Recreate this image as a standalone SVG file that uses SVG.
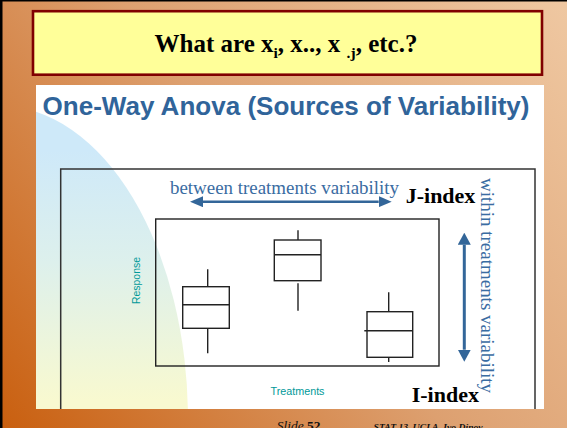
<svg xmlns="http://www.w3.org/2000/svg" width="567" height="428" viewBox="0 0 567 428">
<style>
.serifb{font-family:"Liberation Serif","Times New Roman",serif;font-weight:bold;fill:#000}
.bluet{font-family:"Liberation Serif","Times New Roman",serif;font-size:18px;fill:#3A6CA2}
.teal{font-family:"Liberation Sans",Arial,sans-serif;font-size:10px;fill:#009999}
.box{fill:none;stroke:#222;stroke-width:1.4}
.frame{fill:none;stroke:#333;stroke-width:1.5}
.arr{stroke:#336699;fill:none}
</style>
<defs>
<linearGradient id="bg" gradientUnits="userSpaceOnUse" x1="567" y1="0" x2="0" y2="428">
<stop offset="0" stop-color="#EFC8A2"/>
<stop offset="0.5" stop-color="#DDA070"/>
<stop offset="1" stop-color="#C95F0F"/>
</linearGradient>
<linearGradient id="sweep" gradientUnits="userSpaceOnUse" x1="0" y1="150" x2="0" y2="400">
<stop offset="0" stop-color="#CEE9F9"/>
<stop offset="0.45" stop-color="#DDF0EC"/>
<stop offset="1" stop-color="#F8F9D0"/>
</linearGradient>
<clipPath id="panelclip"><rect x="36" y="85" width="508" height="324"/></clipPath>
<marker id="ahH" markerUnits="userSpaceOnUse" viewBox="0 0 13 11" refX="0" refY="5.5" markerWidth="13" markerHeight="11" orient="auto-start-reverse">
<path d="M0,0 L13,5.5 L0,11 z" fill="#336699"/>
</marker>
<marker id="ahV" markerUnits="userSpaceOnUse" viewBox="0 0 12 13" refX="0" refY="6.5" markerWidth="12" markerHeight="13" orient="auto-start-reverse">
<path d="M0,0 L12,6.5 L0,13 z" fill="#336699"/>
</marker>
</defs>

<g id="background">
<rect x="0" y="0" width="567" height="428" fill="url(#bg)"/>
<rect x="0" y="0" width="2.5" height="428" fill="#000"/>
<rect x="0" y="0" width="567" height="1.5" fill="#000"/>
</g>

<g id="title">
<rect x="33" y="11.2" width="509" height="63.5" fill="#FFFF99" stroke="#800000" stroke-width="2.6"/>
<text class="serifb" x="286" y="52" font-size="25" text-anchor="middle">What are x<tspan font-size="15.5" dy="6">i</tspan><tspan dy="-6">, x.., x </tspan><tspan font-size="15.5" dy="6">.j</tspan><tspan dy="-6">, etc.?</tspan></text>
</g>

<g id="panel">
<rect x="36" y="85" width="508" height="324" fill="#FFFFFF"/>
<ellipse cx="0" cy="420" rx="188" ry="314" fill="url(#sweep)" clip-path="url(#panelclip)"/>
<text x="42.5" y="114.5" font-family="Liberation Sans, Arial, sans-serif" font-size="26.5" font-weight="bold" fill="#30649A" textLength="487" lengthAdjust="spacingAndGlyphs">One-Way Anova (Sources of Variability)</text>
</g>

<g id="outer-frame">
<path class="frame" d="M60.7,409 V169 H535 V409"/>
</g>

<g id="plot-area">
<rect class="box" x="155.7" y="219" width="283.3" height="147"/>
</g>

<g id="boxplot-1">
<rect class="box" x="182.7" y="286.7" width="46.6" height="41.6"/>
<line class="box" x1="182.7" y1="304.7" x2="229.3" y2="304.7"/>
<line class="box" x1="207.7" y1="269.3" x2="207.7" y2="286.7"/>
<line class="box" x1="207.7" y1="328.3" x2="207.7" y2="353.3"/>
</g>

<g id="boxplot-2">
<rect class="box" x="274.3" y="240" width="46.7" height="40.7"/>
<line class="box" x1="274.3" y1="254.7" x2="321" y2="254.7"/>
<line class="box" x1="298" y1="230.3" x2="298" y2="240"/>
<line class="box" x1="298" y1="283.3" x2="298" y2="310.7"/>
</g>

<g id="boxplot-3">
<rect class="box" x="367" y="311.7" width="45.7" height="45.6"/>
<line class="box" x1="364.3" y1="330.7" x2="412.7" y2="330.7"/>
<line class="box" x1="388.7" y1="292.3" x2="388.7" y2="311.7"/>
<line class="box" x1="388.7" y1="357.3" x2="388.7" y2="362"/>
</g>

<g id="labels">
<text class="bluet" x="170" y="194.3" textLength="229" lengthAdjust="spacingAndGlyphs">between treatments variability</text>
<text class="serifb" x="405.7" y="203.3" font-size="22">J-index</text>
<text class="bluet" transform="translate(480.5,178) rotate(90)" x="0" y="0" textLength="215" lengthAdjust="spacingAndGlyphs">within treatments variability</text>
<text class="teal" transform="translate(140,280.5) rotate(-90)" x="0" y="0" text-anchor="middle" textLength="47" lengthAdjust="spacingAndGlyphs">Response</text>
<text class="teal" x="270.5" y="395" textLength="54" lengthAdjust="spacingAndGlyphs">Treatments</text>
<text class="serifb" x="411.7" y="401.7" font-size="22">I-index</text>
</g>

<g id="connectors">
<line class="arr" x1="203" y1="201.7" x2="378.7" y2="201.7" stroke-width="2.5" marker-start="url(#ahH)" marker-end="url(#ahH)"/>
<line class="arr" x1="464.3" y1="244.7" x2="464.3" y2="349.7" stroke-width="3" marker-start="url(#ahV)" marker-end="url(#ahV)"/>
</g>

<g id="footer">
<text x="276.7" y="429.5" font-family="Liberation Serif, 'Times New Roman', serif" font-size="13.5" fill="#111"><tspan font-style="italic">Slide </tspan><tspan font-weight="bold">52</tspan></text>
<text x="373.6" y="429.5" font-family="Liberation Serif, 'Times New Roman', serif" font-size="9" font-style="italic" font-weight="bold" fill="#111" textLength="109" lengthAdjust="spacingAndGlyphs">STAT 13, UCLA, Ivo Dinov</text>
</g>
</svg>
